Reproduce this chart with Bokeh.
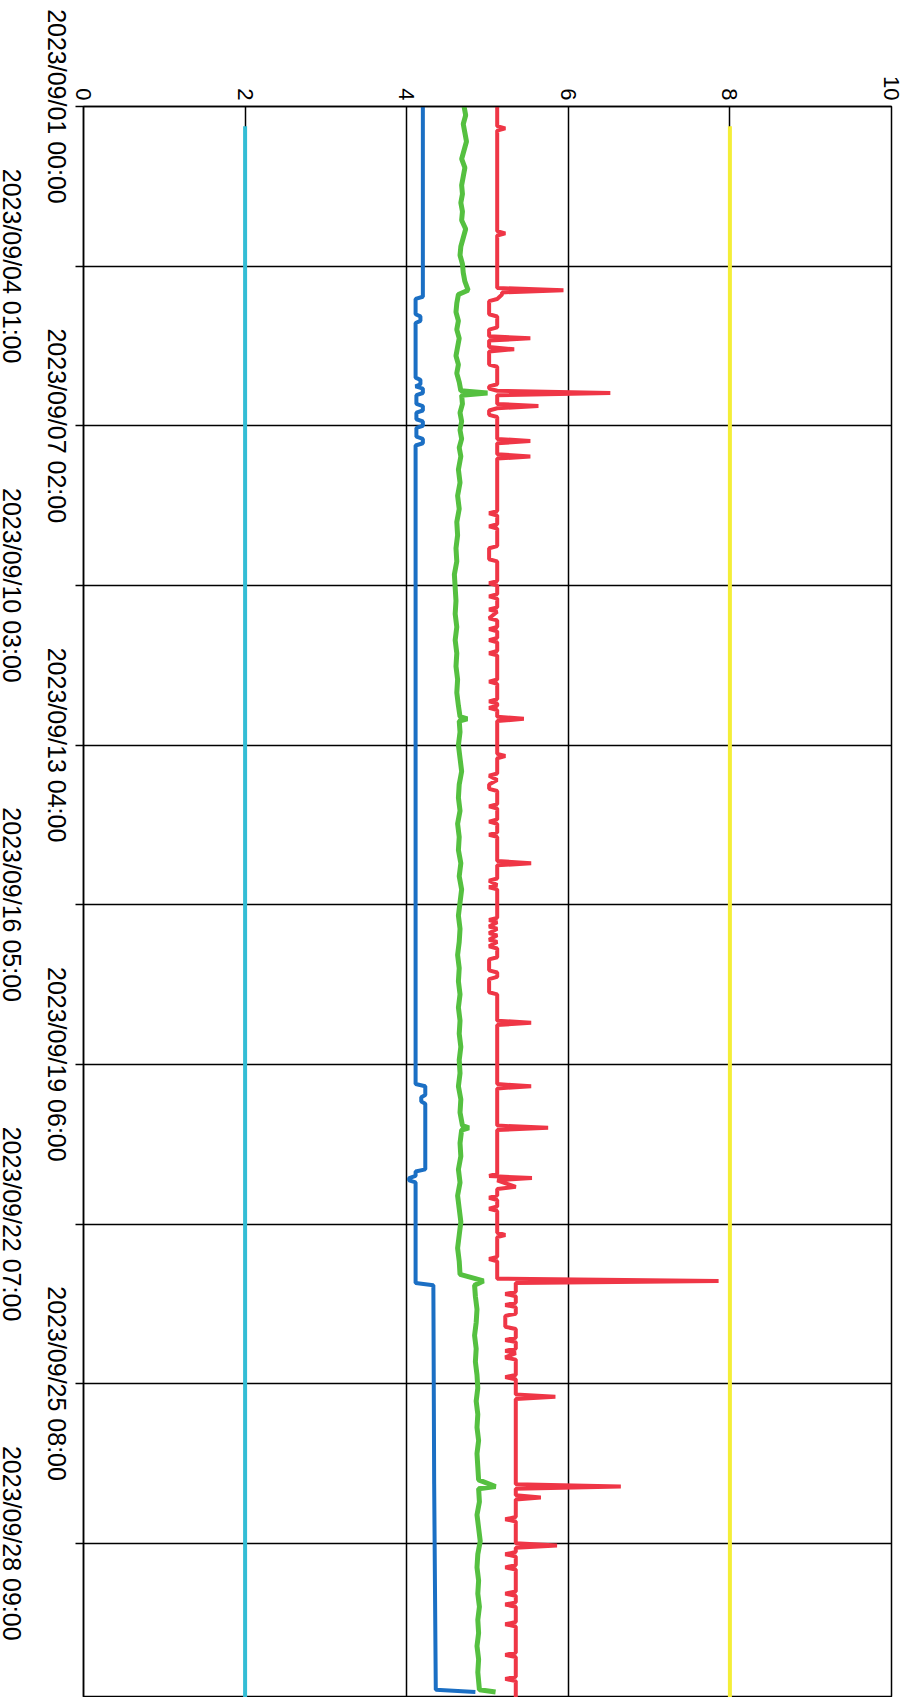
import math
import pandas as pd
from bokeh.plotting import figure
from bokeh.models import Range1d, LinearAxis, FixedTicker, Grid
from bokeh.embed import file_html
from bokeh.resources import INLINE

start = pd.Timestamp("2023-09-01 00:00")
end_hours = 727.5

# date ticks (hours from start) and their labels
tick_hours = [0, 73, 146, 219, 292, 365, 438, 511, 584, 657]
tick_labels = ["2023/09/01 00:00", "2023/09/04 01:00", "2023/09/07 02:00",
               "2023/09/10 03:00", "2023/09/13 04:00", "2023/09/16 05:00",
               "2023/09/19 06:00", "2023/09/22 07:00", "2023/09/25 08:00",
               "2023/09/28 09:00"]
value_ticks = [0, 2, 4, 6, 8, 10]

# constant series
cyan_hours = [9, 727.5]
cyan_values = [2.0, 2.0]
yellow_hours = [9, 727.5]
yellow_values = [8.0, 8.0]

# blue series
blue_hours = [0, 87, 88, 95, 96, 98, 99, 124, 125, 127, 128, 129, 131, 132,
              136, 137, 139, 140, 143, 144, 146, 147, 151, 152, 154, 155,
              447, 448, 452, 453, 455, 456, 486, 487, 489, 490, 491, 492,
              538, 539, 630, 724, 725]
blue_values = [4.20, 4.20, 4.11, 4.11, 4.17, 4.17, 4.11, 4.11, 4.17, 4.17, 4.11, 4.20, 4.20, 4.12,
               4.12, 4.20, 4.20, 4.12, 4.12, 4.20, 4.20, 4.12, 4.12, 4.20, 4.20, 4.11,
               4.11, 4.23, 4.23, 4.18, 4.18, 4.23, 4.23, 4.11, 4.11, 4.03, 4.03, 4.11,
               4.11, 4.33, 4.34, 4.36, 4.85]

# green series
green_hours = [0, 4, 8, 12, 16, 20, 24, 28, 32, 36, 40, 44, 48, 52, 56, 60, 64, 68, 72, 76, 80, 84, 86,
               90, 94, 98, 102, 106, 110, 114, 118, 122, 126, 130, 131, 132,
               136, 140, 144, 148, 152, 156, 160, 166, 172, 178, 184, 190, 196, 202, 208, 214,
               220, 226, 232, 238, 244, 250, 256, 262, 268, 274, 279, 280, 281,
               286, 292, 298, 304, 310, 316, 322, 328, 334, 340, 346, 352, 358, 364, 370, 376,
               382, 388, 394, 400, 406, 412, 418, 424, 430, 436, 442, 448, 454, 460, 466, 467, 468,
               474, 480, 486, 492, 498, 504, 510, 516, 522, 528, 534, 537, 539,
               544, 550, 556, 562, 568, 574, 580, 586, 592, 598, 604, 610, 616, 622, 628, 631, 632,
               638, 644, 650, 656, 662, 668, 674, 680, 686, 692, 698, 704, 710, 716, 724, 725]
green_values = [4.71, 4.73, 4.70, 4.72, 4.74, 4.71, 4.68, 4.72, 4.70, 4.68, 4.69, 4.67, 4.69, 4.68, 4.73, 4.70, 4.67, 4.66, 4.69, 4.70, 4.72, 4.76, 4.64,
                4.62, 4.61, 4.64, 4.62, 4.65, 4.63, 4.61, 4.64, 4.62, 4.65, 4.67, 5.00, 4.68,
                4.69, 4.66, 4.68, 4.66, 4.68, 4.65, 4.67, 4.64, 4.66, 4.63, 4.65, 4.62, 4.63, 4.61, 4.62, 4.59,
                4.60, 4.61, 4.60, 4.62, 4.60, 4.62, 4.61, 4.63, 4.62, 4.64, 4.66, 4.75, 4.65,
                4.66, 4.64, 4.66, 4.68, 4.65, 4.64, 4.66, 4.63, 4.65, 4.64, 4.67, 4.65, 4.68, 4.66, 4.64, 4.66,
                4.65, 4.63, 4.65, 4.64, 4.66, 4.64, 4.66, 4.65, 4.67, 4.65, 4.66, 4.64, 4.67, 4.66, 4.69, 4.77, 4.68,
                4.66, 4.67, 4.64, 4.66, 4.63, 4.65, 4.67, 4.65, 4.63, 4.65, 4.66, 4.95, 4.84,
                4.85, 4.87, 4.86, 4.84, 4.86, 4.85, 4.87, 4.88, 4.86, 4.88, 4.87, 4.89, 4.87, 4.88, 4.89, 5.10, 4.89,
                4.90, 4.87, 4.89, 4.91, 4.88, 4.87, 4.89, 4.88, 4.90, 4.88, 4.89, 4.87, 4.89, 4.88, 4.90, 5.10]

# red series
red_hours = [0, 9, 10, 11, 57, 58, 59, 83, 84, 85, 86, 88, 89, 95, 96,
             101, 102, 105, 106, 107, 110, 111, 112, 118, 119, 127, 128, 129, 130,
             131, 132, 136, 137, 138, 139, 141, 142, 152, 153, 154, 159, 160, 161,
             185, 186, 187, 191, 192, 193, 201, 202, 207, 208, 217, 218, 219, 223, 224, 225,
             229, 230, 231, 234, 235, 238, 239, 240, 243, 244, 245, 249, 250, 251,
             262, 263, 264, 271, 272, 273, 274, 275, 276, 279, 280, 281, 296, 297, 298,
             305, 306, 308, 310, 312, 313, 319, 320, 321, 326, 327, 328, 332, 333, 334,
             345, 346, 347, 353, 354, 356, 357, 358, 371, 372, 373, 375, 376, 378, 379,
             381, 382, 384, 385, 389, 390, 395, 396, 398, 399, 405, 406, 418, 419, 420,
             447, 448, 449, 466, 467, 468, 488, 489, 490, 491, 494, 495, 498, 499, 500,
             503, 504, 505, 515, 516, 517, 526, 527, 528, 536, 537, 538,
             542, 543, 544, 547, 548, 549, 552, 553, 558, 559, 563, 564, 565, 568, 569, 570,
             572, 573, 580, 581, 582, 589, 590, 591, 630, 631, 632, 635, 636, 637,
             645, 646, 647, 657, 658, 659, 661, 662, 663, 667, 668, 669, 679, 680, 681,
             684, 685, 686, 693, 694, 695, 707, 708, 709, 718, 719, 720, 727.5]
red_values = [5.12, 5.12, 5.22, 5.12, 5.12, 5.22, 5.12, 5.12, 5.94, 5.18, 5.18, 5.12, 5.02, 5.02, 5.12,
              5.12, 5.02, 5.02, 5.53, 5.02, 5.02, 5.33, 5.02, 5.02, 5.12, 5.12, 5.02, 5.02, 5.12,
              6.52, 5.12, 5.12, 5.63, 5.12, 5.02, 5.02, 5.12, 5.12, 5.53, 5.12, 5.12, 5.53, 5.12,
              5.12, 5.02, 5.12, 5.12, 5.02, 5.12, 5.12, 5.02, 5.02, 5.12, 5.12, 5.02, 5.12, 5.12, 5.02, 5.12,
              5.12, 5.02, 5.12, 5.02, 5.12, 5.12, 5.02, 5.12, 5.12, 5.02, 5.12, 5.12, 5.02, 5.12,
              5.12, 5.02, 5.12, 5.12, 5.02, 5.12, 5.12, 5.02, 5.12, 5.12, 5.45, 5.12, 5.12, 5.22, 5.12,
              5.12, 5.02, 5.12, 5.02, 5.02, 5.12, 5.12, 5.02, 5.12, 5.12, 5.02, 5.12, 5.12, 5.02, 5.12,
              5.12, 5.54, 5.12, 5.12, 5.02, 5.12, 5.02, 5.12, 5.12, 5.02, 5.12, 5.02, 5.12, 5.02, 5.12,
              5.02, 5.12, 5.02, 5.12, 5.12, 5.02, 5.02, 5.12, 5.12, 5.02, 5.02, 5.12, 5.12, 5.54, 5.12,
              5.12, 5.54, 5.12, 5.12, 5.75, 5.12, 5.12, 5.02, 5.55, 5.12, 5.35, 5.12, 5.12, 5.02, 5.12,
              5.12, 5.02, 5.12, 5.12, 5.22, 5.12, 5.12, 5.02, 5.12, 5.12, 7.86, 5.35,
              5.35, 5.22, 5.35, 5.35, 5.22, 5.35, 5.35, 5.22, 5.22, 5.35, 5.35, 5.22, 5.35, 5.35, 5.22, 5.35,
              5.22, 5.35, 5.35, 5.22, 5.35, 5.35, 5.84, 5.35, 5.35, 6.65, 5.35, 5.35, 5.66, 5.35,
              5.35, 5.22, 5.35, 5.35, 5.86, 5.35, 5.35, 5.22, 5.35, 5.35, 5.22, 5.35, 5.35, 5.22, 5.35,
              5.35, 5.22, 5.35, 5.35, 5.22, 5.35, 5.35, 5.22, 5.35, 5.35, 5.22, 5.35, 5.35]


def to_time(hours):
    return [start + pd.Timedelta(hours=h) for h in hours]


def to_ms(hours):
    return [(start + pd.Timedelta(hours=h)).value / 1e6 for h in hours]


FIG_H = 1697
TOP = 106
FONT_PX = 25
LEFT = 150          # generous left border, so the frame position never moves
SHIFT = LEFT - 83   # canvas moved left so that the frame starts at x = 83
px_per_hour = (FIG_H - TOP) / end_hours

tick_ms = to_ms(tick_hours)
# rotated labels are drawn ending at their anchor; move the anchor half a
# label length further down so that each label is centred on its tick
half_label_hours = 7.78 * FONT_PX / 2 / px_per_hour
label_ms = to_ms([h + half_label_hours for h in tick_hours])
end_time = start + pd.Timedelta(hours=end_hours)

p = figure(width=911 + SHIFT, height=FIG_H,
           x_range=Range1d(0, 10),
           y_range=Range1d(start=end_time, end=start),
           x_axis_location=None, y_axis_location=None,
           toolbar_location=None, output_backend="svg",
           min_border_left=LEFT, min_border_top=TOP,
           min_border_right=20, min_border_bottom=0)
p.styles = {"margin-left": f"-{SHIFT}px"}
p.outline_line_color = "black"
p.outline_line_width = 1.5
p.background_fill_color = "white"
p.border_fill_color = "white"

for g in p.grid:
    g.visible = False

xg = Grid(dimension=0, ticker=FixedTicker(ticks=value_ticks),
          grid_line_color="black", grid_line_width=1.5)
yg = Grid(dimension=1, ticker=FixedTicker(ticks=tick_ms),
          grid_line_color="black", grid_line_width=1.5)
p.add_layout(xg, "center")
p.add_layout(yg, "center")

top_axis = LinearAxis(ticker=FixedTicker(ticks=value_ticks),
                      major_label_orientation=-math.pi / 2,
                      major_tick_out=0, major_tick_in=0,
                      minor_tick_out=0, minor_tick_in=0,
                      axis_line_color="black", axis_line_width=1.5,
                      major_label_standoff=6,
                      major_label_text_font="Liberation Sans",
                      major_label_text_font_size="22px",
                      major_label_text_color="black")
p.add_layout(top_axis, "above")

# two-line labels: even ones on the line next to the axis, odd ones one line further out
overrides = {}
for i, (ms, lab) in enumerate(zip(label_ms, tick_labels)):
    overrides[ms] = (lab + "\n") if i % 2 == 0 else ("\n" + lab)

left_axis = LinearAxis(ticker=FixedTicker(ticks=label_ms, minor_ticks=tick_ms),
                       major_label_overrides=overrides,
                       major_label_orientation=-math.pi / 2,
                       major_tick_out=8, major_tick_in=0,
                       major_tick_line_color=None,
                       minor_tick_out=8, minor_tick_in=0,
                       minor_tick_line_color="black", minor_tick_line_width=1.5,
                       axis_line_color="black", axis_line_width=1.5,
                       major_label_standoff=41,
                       major_label_text_font="Liberation Sans",
                       major_label_text_font_size=f"{FONT_PX}px",
                       major_label_text_line_height=1.62,
                       major_label_text_color="black")
p.add_layout(left_axis, "left")

p.line(x=cyan_values, y=to_time(cyan_hours), line_color="#33bdd5", line_width=4)
p.line(x=yellow_values, y=to_time(yellow_hours), line_color="#f4ee38", line_width=4)
p.line(x=blue_values, y=to_time(blue_hours), line_color="#1b6fc4", line_width=4)
p.line(x=green_values, y=to_time(green_hours), line_color="#55c040", line_width=5)
p.line(x=red_values, y=to_time(red_hours), line_color="#ef3646", line_width=4)

open("out.html", "w").write(file_html(p, INLINE))
